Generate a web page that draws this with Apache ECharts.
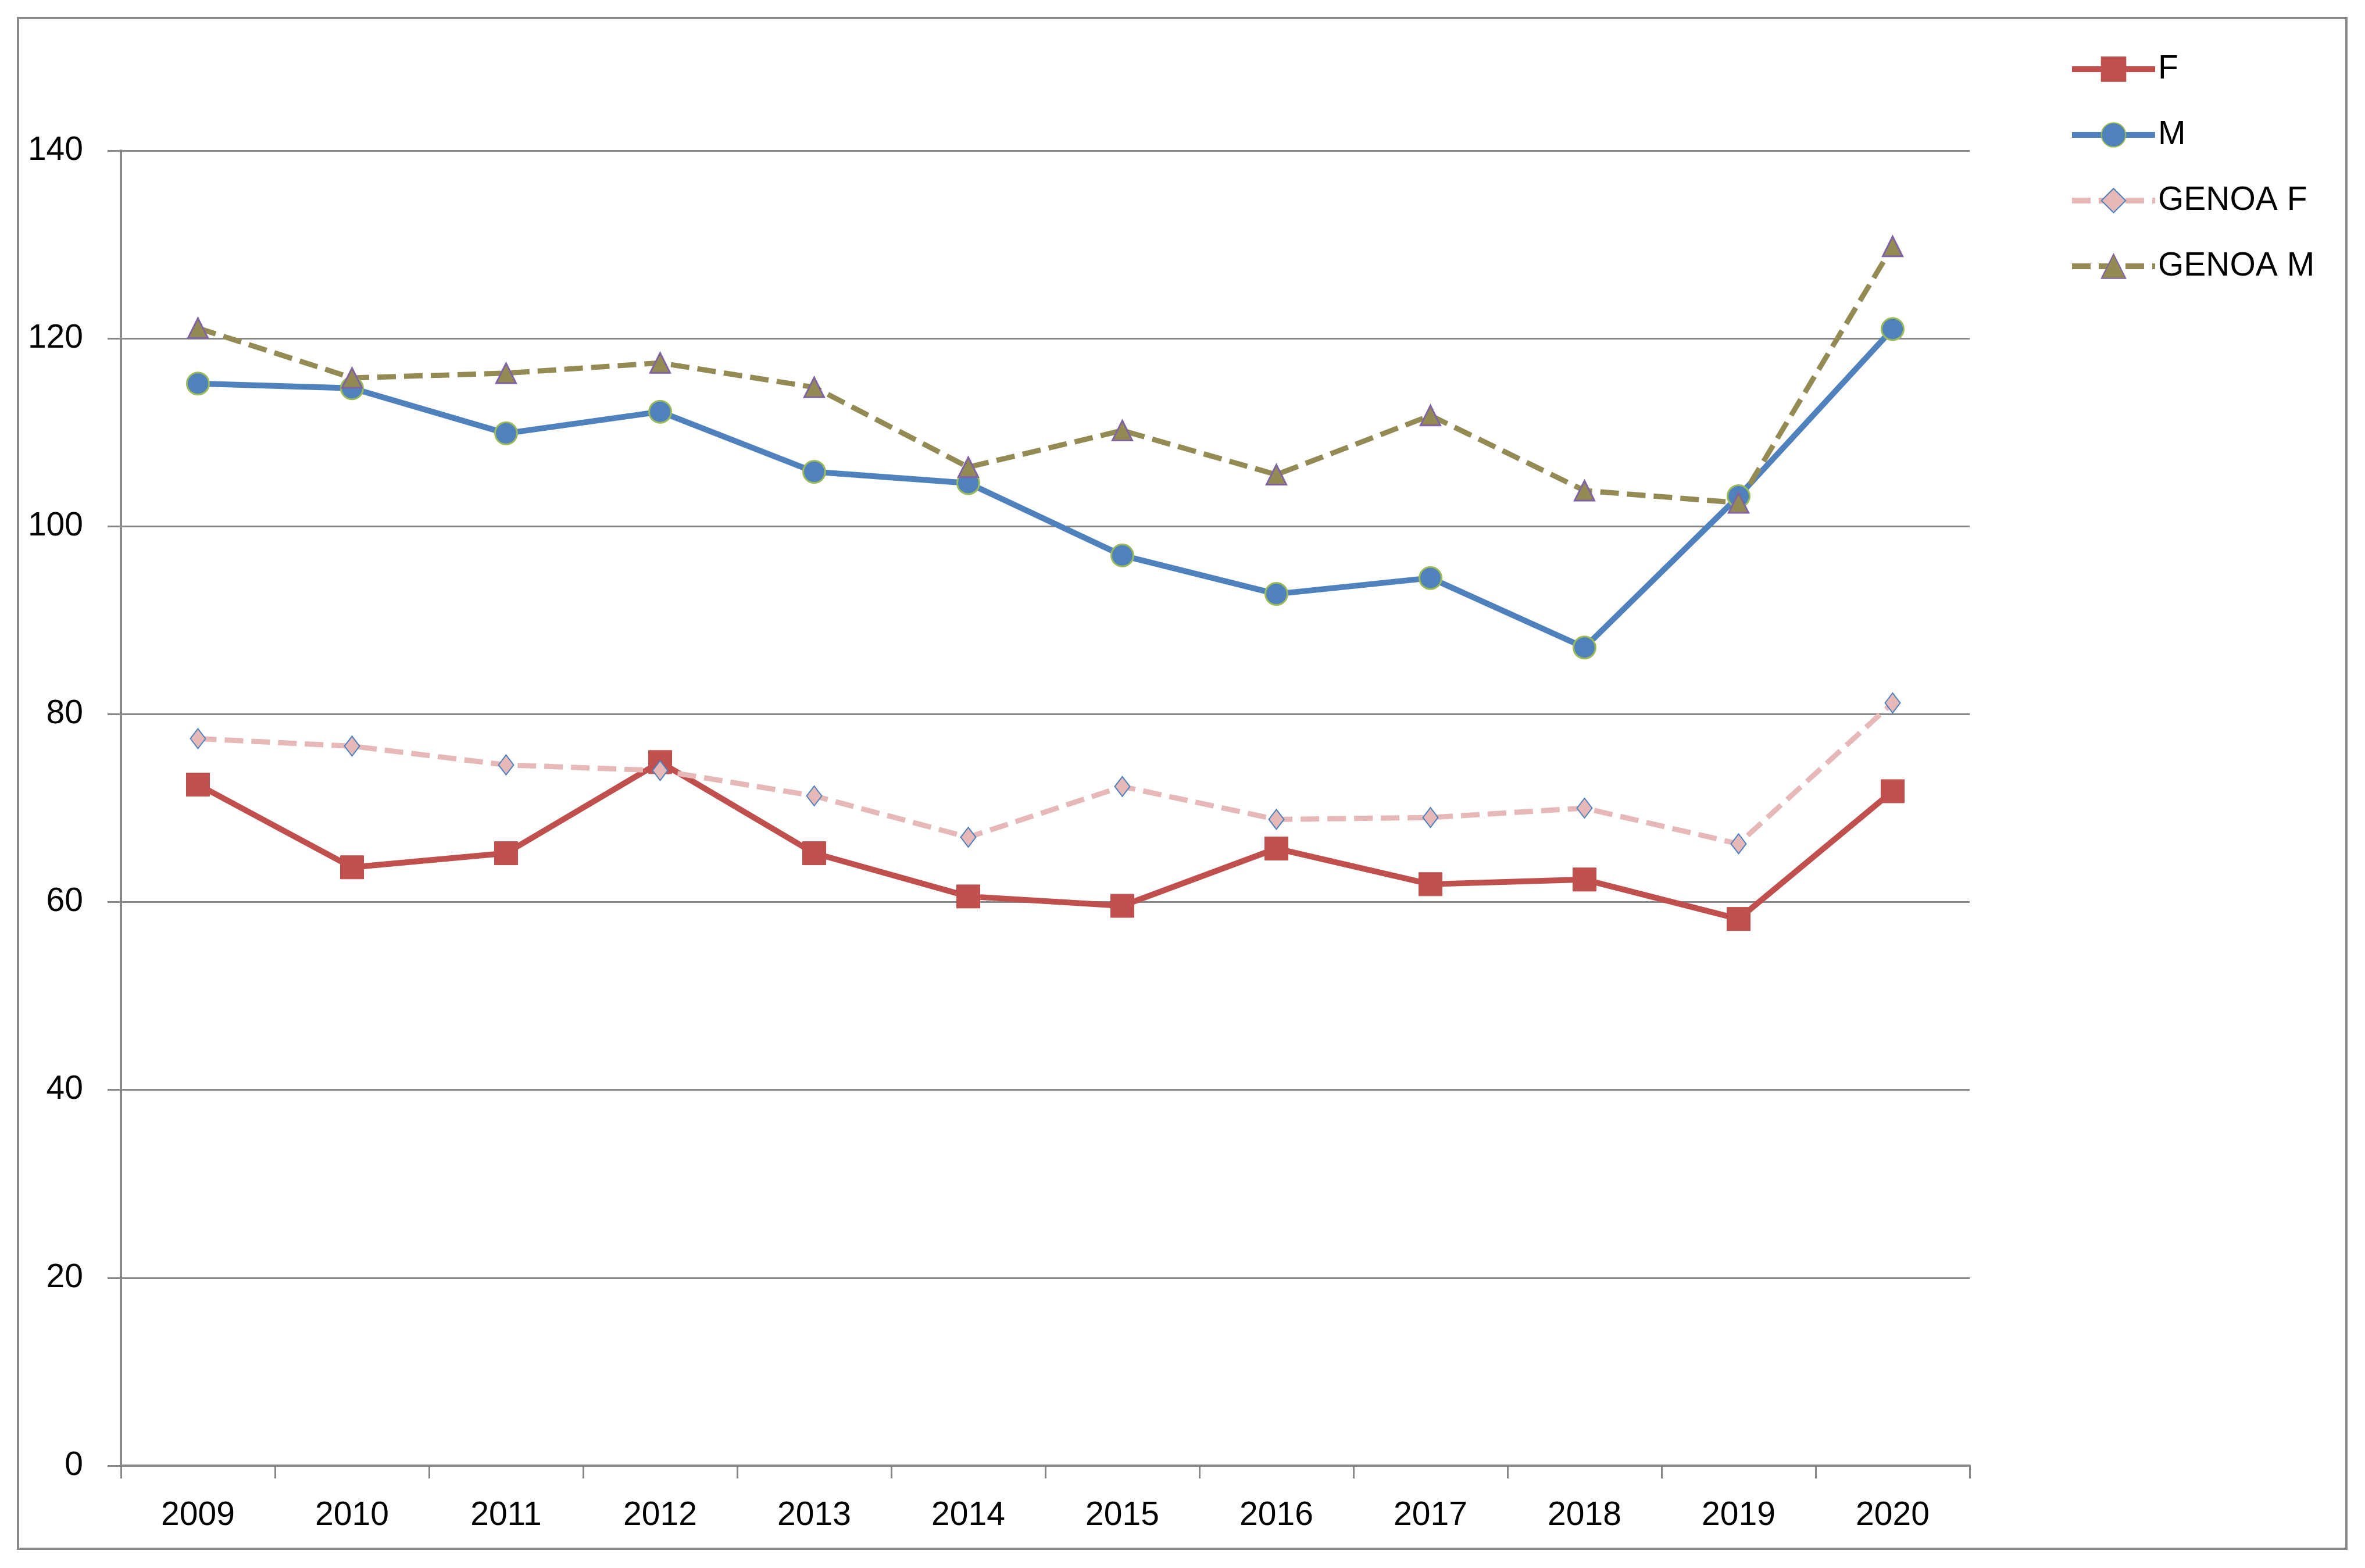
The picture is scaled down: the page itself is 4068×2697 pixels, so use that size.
<!DOCTYPE html>
<html>
<head>
<meta charset="utf-8">
<script src="https://cdn.jsdelivr.net/npm/echarts@6/dist/echarts.min.js"></script>
<style>
html, body { margin: 0; padding: 0; background: #fff; }
#chart { width: 4068px; height: 2697px; }
</style>
</head>
<body>
<div id="chart"></div>
<script>
const years = ['2009','2010','2011','2012','2013','2014','2015','2016','2017','2018','2019','2020'];
const seriesF      = [72.5, 63.7, 65.2, 74.9, 65.2, 60.6, 59.6, 65.7, 61.9, 62.4, 58.2, 71.8];
const seriesM      = [115.2, 114.7, 109.9, 112.2, 105.8, 104.6, 96.9, 92.8, 94.5, 87.1, 103.2, 121.0];
const seriesGenoaF = [77.4, 76.6, 74.6, 74.0, 71.3, 66.9, 72.3, 68.8, 69.0, 70.0, 66.2, 81.2];
const seriesGenoaM = [121.1, 115.8, 116.3, 117.4, 114.8, 106.3, 110.2, 105.5, 111.8, 103.8, 102.5, 129.8];
const yTicks = { min: 0, max: 140, interval: 20 };

const FONT = '"Liberation Sans", Arial, sans-serif';
const GRAY = '#888888';

const chart = echarts.init(document.getElementById('chart'), null, { renderer: 'canvas' });
chart.setOption({
  animation: false,
  backgroundColor: '#ffffff',
  graphic: [{
    type: 'rect',
    shape: { x: 31, y: 31, width: 4005, height: 2633 },
    style: { fill: 'none', stroke: '#898989', lineWidth: 4 },
    silent: true
  }],
  grid: { left: 208, right: 680, top: 259, bottom: 176, containLabel: false },
  legend: {
    orient: 'vertical',
    left: 3554,
    top: 84,
    itemWidth: 143,
    itemHeight: 52,
    itemGap: 53,
    lineStyle: { width: 10 },
    textStyle: { fontFamily: FONT, fontSize: 57, color: '#000', lineHeight: 60 },
    data: ['F', 'M', 'GENOA F', 'GENOA M']
  },
  xAxis: {
    type: 'category',
    data: years,
    boundaryGap: true,
    axisLine: { show: true, lineStyle: { color: GRAY, width: 4 } },
    axisTick: { show: true, length: 22, lineStyle: { color: GRAY, width: 3 } },
    axisLabel: { fontFamily: FONT, fontSize: 57, color: '#000', margin: 58 },
    splitLine: { show: false }
  },
  yAxis: {
    type: 'value',
    min: yTicks.min, max: yTicks.max, interval: yTicks.interval,
    axisLine: { show: true, lineStyle: { color: GRAY, width: 4 } },
    axisTick: { show: true, length: 23, lineStyle: { color: GRAY, width: 3 } },
    axisLabel: { fontFamily: FONT, fontSize: 57, color: '#000', margin: 65 },
    splitLine: { show: true, lineStyle: { color: GRAY, width: 3 } }
  },
  series: [
    {
      name: 'F', type: 'line', data: seriesF,
      symbol: 'rect', symbolSize: 40,
      lineStyle: { color: '#C0504D', width: 10 },
      itemStyle: { color: '#C0504D', borderColor: '#C0504D', borderWidth: 1 }
    },
    {
      name: 'M', type: 'line', data: seriesM,
      symbol: 'circle', symbolSize: 38,
      lineStyle: { color: '#4F81BD', width: 10 },
      itemStyle: { color: '#4F81BD', borderColor: '#9BBB59', borderWidth: 3 }
    },
    {
      name: 'GENOA F', type: 'line', data: seriesGenoaF,
      symbol: 'diamond', symbolSize: [26, 34],
      lineStyle: { color: '#E6B9B8', width: 9, type: [32, 14] },
      itemStyle: { color: '#E6B9B8', borderColor: '#4F81BD', borderWidth: 2 }
    },
    {
      name: 'GENOA M', type: 'line', data: seriesGenoaM,
      symbol: 'triangle', symbolSize: 34,
      lineStyle: { color: '#948A54', width: 9, type: [32, 14] },
      itemStyle: { color: '#948A54', borderColor: '#8064A2', borderWidth: 3 }
    }
  ]
});
</script>
</body>
</html>
